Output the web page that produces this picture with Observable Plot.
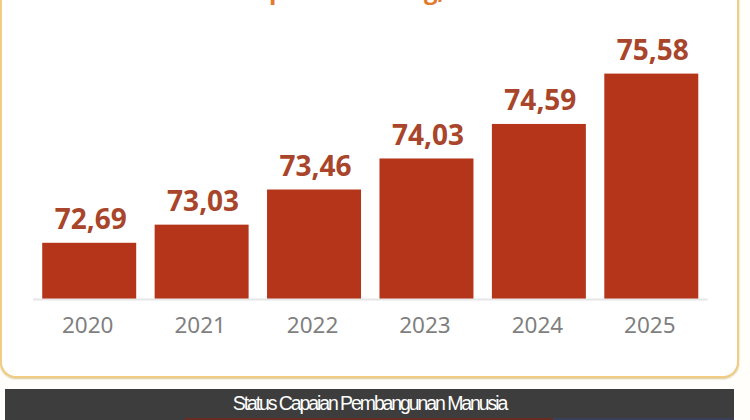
<!DOCTYPE html>
<html><head><meta charset="utf-8">
<script src="https://cdn.jsdelivr.net/npm/d3@7"></script>
<script src="https://cdn.jsdelivr.net/npm/@observablehq/plot@0.6"></script>
<style>
html,body{margin:0;padding:0;width:750px;height:420px;overflow:hidden;background:#fffefb}
#frame{position:absolute;left:0;top:-30px;width:735px;height:406px;border:2px solid #f0cc85;border-top:none;border-radius:0 0 16px 16px;box-shadow:0 1px 2px #d8c898;background:#fff}
#chart{position:absolute;left:0;top:0}
.frag{position:absolute;top:-27px;font:bold 24px "Open Sans",sans-serif;color:#e2792b}
#band{position:absolute;left:5px;top:389px;width:729px;height:29px;background:#3d3d3d;color:#fff;text-align:center;font:19.5px/29px "Liberation Sans",sans-serif;letter-spacing:-2.1px;white-space:nowrap}
#stripL{position:absolute;left:5px;top:418px;width:180px;height:2px;background:#3d3d3d}
#stripA{position:absolute;left:185px;top:418px;width:368px;height:2px;background:#6a2c1e}
#stripB{position:absolute;left:553px;top:418px;width:181px;height:2px;background:#38405a}
</style></head><body>
<div id="frame"></div>
<div class="frag" style="left:269px">p</div>
<div class="frag" style="left:424px">g,</div>
<div id="chart"></div>
<div id="band">Status Capaian Pembangunan Manusia</div>
<div id="stripL"></div><div id="stripA"></div><div id="stripB"></div>
<script>
const years = ["2020","2021","2022","2023","2024","2025"];
// Bar levels as the bars are drawn in the picture
const barLevels = [72.69,73.00,73.60,74.13,74.72,75.58];
// Values as printed above the bars
const labels = ["72,69","73,03","73,46","74,03","74,59","75,58"];
const baseValue = 71.73;
const topValue = 76;
const rows = years.map((y,i)=>({year:y,value:barLevels[i],label:labels[i]}));
const plot = Plot.plot({
  width:750,height:340,marginLeft:33,marginRight:42.5,marginTop:49,marginBottom:41,
  style:{background:"transparent",overflow:"visible"},
  x:{domain:years,paddingInner:0.164,paddingOuter:0.082,round:false,label:null},
  y:{domain:[baseValue,topValue],clamp:true,axis:null,label:null},
  marks:[
    Plot.barY(rows,{x:"year",y:"value",fill:"#b5351a"}),
    Plot.ruleY([baseValue],{stroke:"#e6e6e6",strokeWidth:2}),
    Plot.text(rows,{x:"year",y:"value",text:"label",fill:"#a8452a",fontWeight:"bold",fontSize:28,fontFamily:"Open Sans",lineAnchor:"bottom",dy:-14,dx:1}),
    Plot.axisX({tickSize:0,tickPadding:18,fontSize:22.5,fontFamily:"Noto Sans",color:"#7f7f7f",label:null,dx:-2})
  ]
});
document.getElementById("chart").appendChild(plot);
</script></body></html>
